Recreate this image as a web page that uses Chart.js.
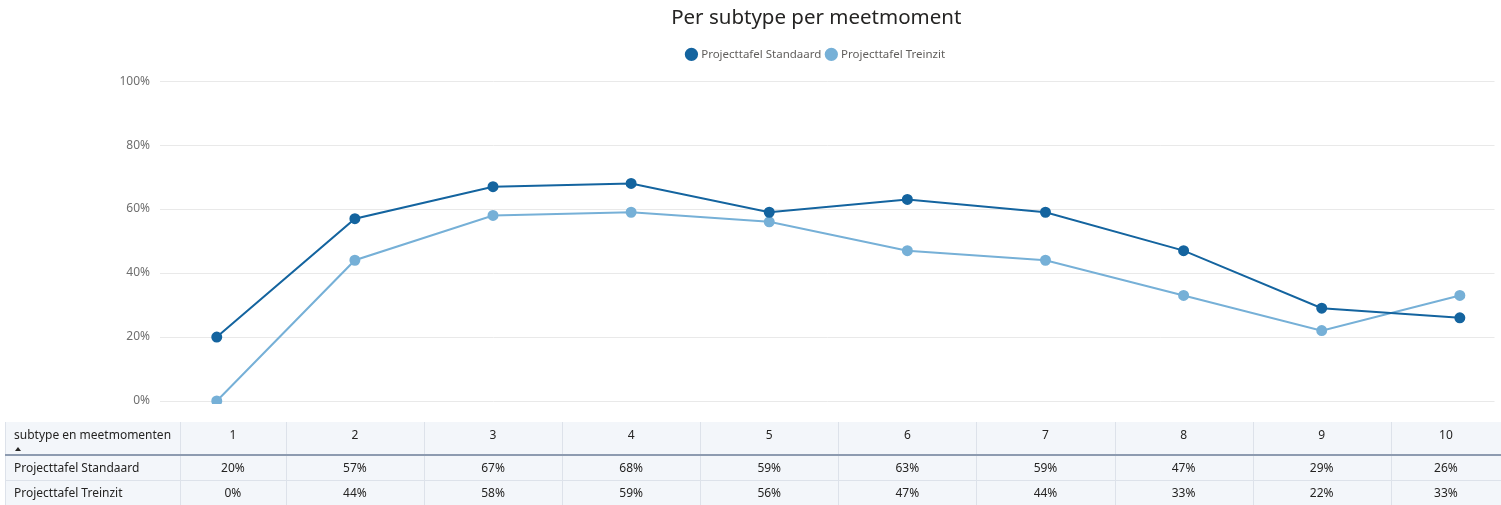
<!DOCTYPE html>
<html>
<head>
<meta charset="utf-8">
<script src="https://cdn.jsdelivr.net/npm/chart.js@4"></script>
<style>
	html, body { margin: 0; padding: 0; background: #ffffff; overflow: hidden; }
	#wrap { width: 1501px; height: 505px; position: relative; }
</style>
</head>
<body>
<div id="wrap"><canvas id="lineChart"></canvas></div>
<script>
///
///	Data
///

// Measurement moments (x axis / table header)
var moments = ['1', '2', '3', '4', '5', '6', '7', '8', '9', '10'];

// Percentages per subtype
var standaard = [20, 57, 67, 68, 59, 63, 59, 47, 29, 26];
var treinzit = [0, 44, 58, 59, 56, 47, 44, 33, 22, 33];

var seriesNames = ['Projecttafel Standaard', 'Projecttafel Treinzit'];
var yTicks = [0, 20, 40, 60, 80, 100];

var tableHeader = 'subtype en meetmomenten';

///
///	Chart setup
///

const soilFont = "'Noto Sans', 'Open Sans', sans-serif";
const darkBlue = '#14649f';
const lightBlue = '#76b0d7';

Chart.defaults.font.family = soilFont;
Chart.defaults.color = '#666666';

// Turn a series into points on the linear x scale
function toPoints(values) {
	return values.map(function(v, i) { return { x: i + 1, y: v }; });
}

// Give the legend some extra room below it, and nudge title + legend left a bit
const legendSpace = {
	id: 'legendSpace',
	beforeInit: function(chart) {
		const origFit = chart.legend.fit;
		chart.legend.fit = function() {
			origFit.bind(chart.legend)();
			this.height += 11;
		};
	},
	afterLayout: function(chart) {
		[chart.titleBlock, chart.legend].forEach(function(box) {
			box.left -= 22;
		});
	}
};

// Draw the data table under the plot, columns taken from the x scale
const tablePlugin = {
	id: 'dataTable',
	afterDraw: function(chart) {
		const ctx = chart.ctx;
		const xs = chart.scales.x;
		const top = 422, headH = 33, rowH = 25;
		const left = 5, firstCol = 180, right = chart.width;

		ctx.save();
		// backgrounds
		ctx.fillStyle = '#f3f6fa';
		ctx.fillRect(left, top, right - left, headH + rowH * 2);

		// column bounds
		var bounds = [];
		for (var i = 0; i < moments.length; i++) {
			var l = i == 0 ? firstCol : xs.getPixelForValue(i + 0.5);
			var r = i == moments.length - 1 ? right : xs.getPixelForValue(i + 1.5);
			bounds.push([Math.max(l, firstCol), Math.min(r, right)]);
		}

		// vertical lines
		ctx.strokeStyle = '#dde2ea';
		ctx.lineWidth = 1;
		ctx.beginPath();
		ctx.moveTo(left + 0.5, top); ctx.lineTo(left + 0.5, top + headH + rowH * 2);
		ctx.moveTo(firstCol + 0.5, top); ctx.lineTo(firstCol + 0.5, top + headH + rowH * 2);
		for (var i = 0; i < bounds.length - 1; i++) {
			var bx = Math.round(bounds[i][1]) + 0.5;
			ctx.moveTo(bx, top); ctx.lineTo(bx, top + headH + rowH * 2);
		}
		// row separator
		ctx.moveTo(left, top + headH + rowH + 0.5); ctx.lineTo(right, top + headH + rowH + 0.5);
		ctx.stroke();

		// header separator (thicker)
		ctx.strokeStyle = '#8d9bb0';
		ctx.lineWidth = 2;
		ctx.beginPath();
		ctx.moveTo(left, top + headH); ctx.lineTo(right, top + headH);
		ctx.stroke();

		// texts
		ctx.fillStyle = '#252423';
		ctx.font = '12px ' + soilFont;
		ctx.textBaseline = 'middle';
		ctx.textAlign = 'left';
		ctx.fillText(tableHeader, 14, top + 14);
		// sort arrow
		ctx.beginPath();
		ctx.moveTo(15, top + 29); ctx.lineTo(21, top + 29); ctx.lineTo(18, top + 25);
		ctx.closePath();
		ctx.fill();

		var rows = [standaard, treinzit];
		for (var r = 0; r < rows.length; r++) {
			ctx.textAlign = 'left';
			ctx.fillText(seriesNames[r], 14, top + headH + rowH * r + rowH / 2 + 1);
		}
		ctx.textAlign = 'center';
		for (var i = 0; i < moments.length; i++) {
			var cx = (bounds[i][0] + bounds[i][1]) / 2;
			ctx.fillText(moments[i], cx, top + 14);
			for (var r = 0; r < rows.length; r++) {
				ctx.fillText(rows[r][i] + '%', cx, top + headH + rowH * r + rowH / 2 + 1);
			}
		}
		ctx.restore();
	}
};

var soilChartData = {
	datasets: [{
		label: seriesNames[0],
		data: toPoints(standaard),
		borderColor: darkBlue,
		backgroundColor: darkBlue,
		pointBackgroundColor: darkBlue,
		pointBorderColor: darkBlue,
		borderWidth: 2,
		pointRadius: 4.5,
		clip: 3
	},
	{
		label: seriesNames[1],
		data: toPoints(treinzit),
		borderColor: lightBlue,
		backgroundColor: lightBlue,
		pointBackgroundColor: lightBlue,
		pointBorderColor: lightBlue,
		borderWidth: 2,
		pointRadius: 4.5,
		clip: 3
	}]
};

var soilChartOptions = {
	responsive: true,
	maintainAspectRatio: false,
	animation: false,
	layout: {
		padding: { left: 0, right: 0, top: 0, bottom: 104 }
	},
	plugins: {
		title: {
			display: true,
			fullSize: false,
			text: 'Per subtype per meetmoment',
			color: '#252423',
			font: { size: 20.5, weight: 'normal' },
			padding: { top: 6, bottom: 12 }
		},
		legend: {
			fullSize: false,
			labels: {
				usePointStyle: true,
				pointStyle: 'circle',
				boxWidth: 8,
				boxHeight: 8,
				padding: 6,
				color: '#605e5c',
				font: { size: 11.5 }
			}
		},
		tooltip: { enabled: false }
	},
	scales: {
		x: {
			type: 'linear',
			min: 0.589,
			max: 10.251,
			display: false
		},
		y: {
			min: 0,
			max: 100,
			afterFit: function(scale) { scale.width = 160; },
			afterBuildTicks: function(scale) {
				scale.ticks = yTicks.map(function(v) { return { value: v }; });
			},
			border: { display: false },
			grid: { color: '#e9e9e9', drawTicks: false },
			ticks: {
				padding: 10,
				color: '#6f6f6f',
				font: { size: 12 },
				callback: function(v) { return v + '%'; }
			}
		}
	}
};

const soilChartCanvas = document.getElementById('lineChart');
let soilChart = new Chart(soilChartCanvas, {
	type: 'line',
	data: soilChartData,
	options: soilChartOptions,
	plugins: [legendSpace, tablePlugin]
});
</script>
</body>
</html>
